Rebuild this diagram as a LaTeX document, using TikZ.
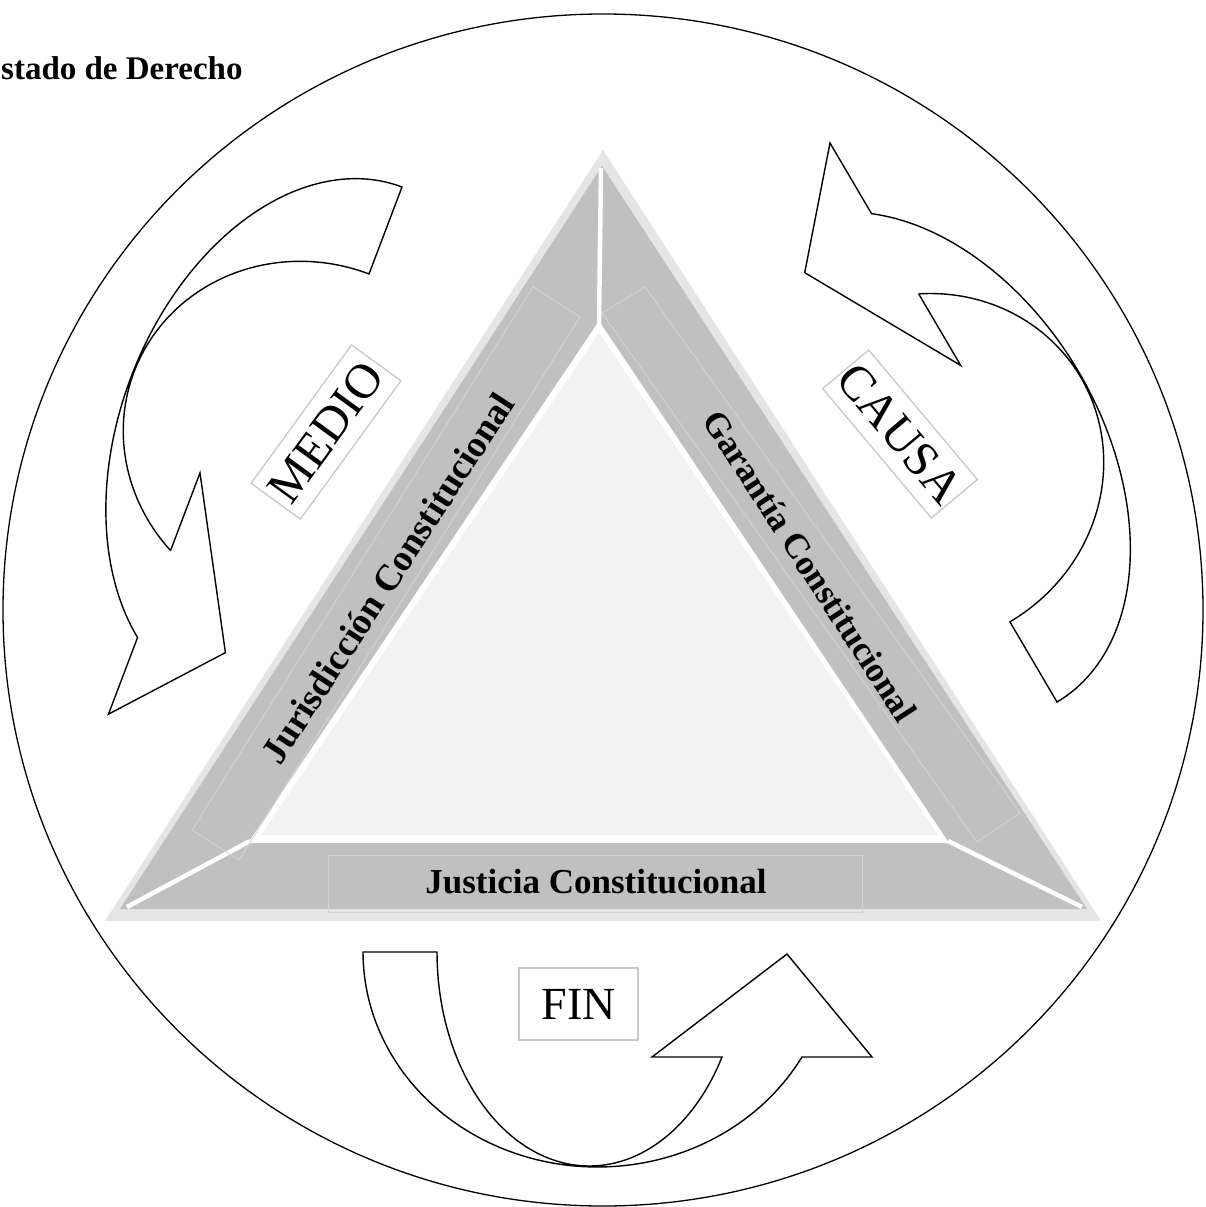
\documentclass[tikz,border=0pt]{standalone}
\usepackage{fontspec}
\setmainfont{Liberation Serif}
\definecolor{bandgray}{RGB}{192,192,192}
\definecolor{rimgray}{RGB}{229,229,229}
\definecolor{facegray}{RGB}{242,242,242}
\definecolor{boxgray}{RGB}{200,200,200}
\definecolor{guidegray}{RGB}{212,212,212}
\tikzset{
  arrowline/.style={draw=black, line width=1.4pt, line join=miter},
  ringline/.style={draw=black, line width=1.3pt},
  bandtext/.style={font=\bfseries\fontsize{35}{38}\selectfont, inner sep=0pt},
  wordbox/.style={draw=boxgray, line width=1.3pt, inner sep=0pt,
                  font=\fontsize{46}{48}\selectfont},
  guideline/.style={draw=guidegray, line width=0.8pt},
  seam/.style={draw=white, line width=4.5pt}
}
\begin{document}
\begin{tikzpicture}[x=1pt, y=-1pt]
\useasboundingbox (0,0) rectangle (1205,1207);

% outer ring
\draw[ringline] (603,610) ellipse [x radius=600, y radius=596];

% title
\node[anchor=base west, inner sep=0pt, font=\bfseries\fontsize{33}{36}\selectfont]
  (title) at (1,79) {stado de Derecho};

% bevelled triangle
\fill[rimgray]  (603,150) -- (1101,921) -- (105,921) -- cycle;
\fill[bandgray] (602,166) -- (1087,909) -- (120,909) -- cycle;
\fill[white]    (599,321) -- (949,843) -- (248,843) -- cycle;
\fill[facegray] (599,333) -- (938,835) -- (261,835) -- cycle;
\draw[seam] (601,168) -- (599,324);
\draw[seam] (127,907) -- (250,841);
\draw[seam] (1082,907) -- (948,841);

% faint text frames on the bands
\draw[guideline] (533,287) -- (580,317) -- (239,860) -- (192,830) -- cycle;
\draw[guideline] (645,287) -- (1020,813) -- (977,842) -- (602,313) -- cycle;
\draw[guideline] (328,855) rectangle (862,912);

% band labels
\node[bandtext, font=\bfseries\fontsize{37}{40}\selectfont, rotate=57]
  (jur) at (388,578) {Jurisdicción Constitucional};
\node[bandtext, rotate=-57] (gar) at (810,566) {Garantía Constitucional};
\node[bandtext, anchor=base] (jus) at (596,893) {Justicia Constitucional};

% word labels
\node[wordbox, font=\fontsize{49}{52}\selectfont, rotate=54,
      minimum width=171pt, minimum height=61pt] (medio) at (326,432) {MEDIO};
\node[wordbox, font=\fontsize{49}{52}\selectfont, rotate=-50,
      minimum width=169pt, minimum height=60pt] (causa) at (900,434) {CAUSA};
\node[wordbox, minimum width=119pt, minimum height=72pt] (fin) at (578.5,1004) {FIN};

% curved arrow beside MEDIO
\begin{scope}[shift={(402,187)}, rotate=-110.77]
\draw[arrowline] (0,0)
  -- plot[domain=180:28.07, samples=90, variable=\t] ({273.6+273.6*cos(\t)},{186*sin(\t)})
  -- (597,87.5) -- (498,0) -- (339,87.5) -- (422,87.5)
  -- plot[domain=28.23:180, samples=90, variable=\t] ({267.9+174.9*cos(\t)},{185*sin(\t)})
  -- cycle;
\end{scope}

% curved arrow beside CAUSA
\begin{scope}[shift={(1057,702)}, rotate=120.44]
\draw[arrowline] (0,0)
  -- plot[domain=180:28.07, samples=90, variable=\t] ({273.6+273.6*cos(\t)},{186*sin(\t)})
  -- (597,87.5) -- (498,0) -- (339,87.5) -- (422,87.5)
  -- plot[domain=28.23:180, samples=90, variable=\t] ({267.9+174.9*cos(\t)},{185*sin(\t)})
  -- cycle;
\end{scope}

% curved arrow below the triangle
\begin{scope}[shift={(363,952)}]
\draw[arrowline] (0,0)
  -- plot[domain=180:29.23, samples=90, variable=\t] ({234.4+234.4*cos(\t)},{215*sin(\t)})
  -- (509,105) -- (424,2) -- (289,105) -- (359,105)
  -- plot[domain=29.39:180, samples=90, variable=\t] ({226.3+152.3*cos(\t)},{214*sin(\t)})
  -- cycle;
\end{scope}
\end{tikzpicture}
\end{document}
